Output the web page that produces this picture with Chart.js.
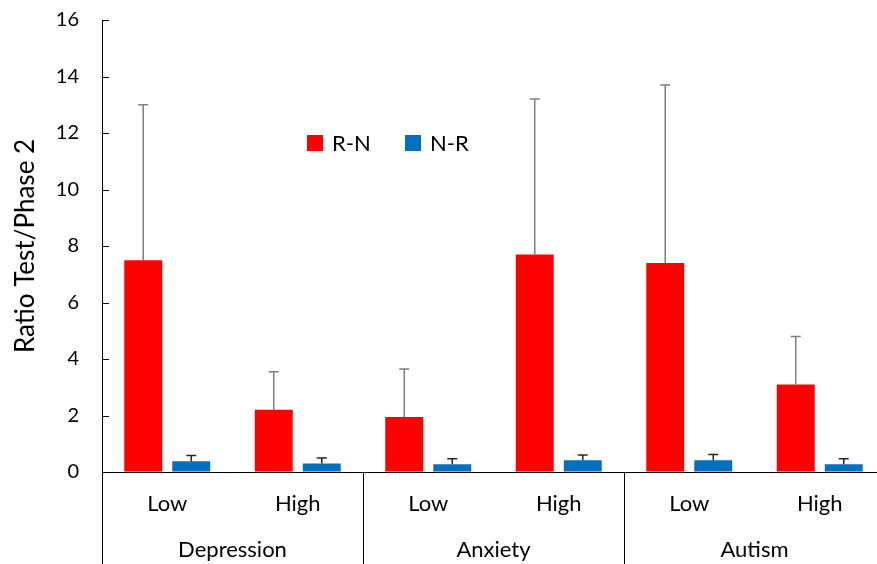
<!DOCTYPE html>
<html>
<head>
<meta charset="utf-8">
<script src="https://cdn.jsdelivr.net/npm/chart.js@4/dist/chart.umd.min.js"></script>
<style>
  body { margin: 0; overflow: hidden; background: #fff; }
  .wrap { width: 890px; height: 564px; }
</style>
</head>
<body>
<div class="wrap"><canvas id="myChart"></canvas></div>
<script>
// data
const categories = ['Low', 'High', 'Low', 'High', 'Low', 'High'];
const groups = ['Depression', 'Anxiety', 'Autism'];
const rnValues = [7.5, 2.2, 1.95, 7.7, 7.4, 3.1];
const rnErrors = [5.5, 1.35, 1.7, 5.5, 6.3, 1.7];
const nrValues = [0.38, 0.3, 0.27, 0.42, 0.42, 0.27];
const nrErrors = [0.2, 0.2, 0.2, 0.18, 0.2, 0.2];
const yTicks = [0, 2, 4, 6, 8, 10, 12, 14, 16];

const fontFamily = 'Lato, "Open Sans", sans-serif';

// error bars, only the upper half
const errorBars = {
  id: 'errorBars',
  afterDatasetsDraw(chart) {
    const ctx = chart.ctx;
    const y = chart.scales.y;
    chart.data.datasets.forEach((ds, i) => {
      const meta = chart.getDatasetMeta(i);
      meta.data.forEach((bar, j) => {
        const top = y.getPixelForValue(ds.data[j] + ds.errors[j]);
        ctx.save();
        ctx.strokeStyle = ds.errorColor;
        ctx.lineWidth = 1.5;
        ctx.beginPath();
        ctx.moveTo(bar.x, bar.y);
        ctx.lineTo(bar.x, top);
        ctx.moveTo(bar.x - 5, top);
        ctx.lineTo(bar.x + 5, top);
        ctx.stroke();
        ctx.restore();
      });
    });
  }
};

// inner y ticks, legend inside plot, group boxes under the axis
const extras = {
  id: 'extras',
  afterDraw(chart) {
    const ctx = chart.ctx;
    const x = chart.scales.x;
    const y = chart.scales.y;
    const area = chart.chartArea;
    const step = x.getPixelForValue(1) - x.getPixelForValue(0);
    ctx.save();
    ctx.strokeStyle = '#000';
    ctx.lineWidth = 1;
    ctx.beginPath();
    yTicks.forEach(v => {
      const py = Math.round(y.getPixelForValue(v)) + 0.5;
      ctx.moveTo(area.left, py);
      ctx.lineTo(area.left + 7, py);
    });
    for (let g = 0; g <= groups.length; g++) {
      const px = Math.round(x.getPixelForValue(g * 2) - step / 2) + 0.5;
      ctx.moveTo(px, area.bottom);
      ctx.lineTo(px, chart.height);
    }
    ctx.stroke();

    ctx.fillStyle = '#000';
    ctx.font = '22px ' + fontFamily;
    ctx.textAlign = 'center';
    ctx.textBaseline = 'middle';
    groups.forEach((g, i) => {
      const cx = (x.getPixelForValue(i * 2) + x.getPixelForValue(i * 2 + 1)) / 2;
      ctx.fillText(g, cx, 550);
    });

    // legend
    const items = [
      { label: 'R-N', color: '#FF0000', x: 307 },
      { label: 'N-R', color: '#0070C0', x: 405 }
    ];
    ctx.textAlign = 'left';
    items.forEach(it => {
      ctx.fillStyle = it.color;
      ctx.fillRect(it.x, 135, 16, 16);
      ctx.fillStyle = '#000';
      ctx.fillText(it.label, it.x + 25, 144);
    });
    ctx.restore();
  }
};

const ctx = document.getElementById('myChart');
new Chart(ctx, {
  type: 'bar',
  data: {
    labels: categories,
    datasets: [
      {
        label: 'R-N',
        data: rnValues,
        errors: rnErrors,
        errorColor: '#7F7F7F',
        backgroundColor: '#FF0000',
        categoryPercentage: 0.736,
        barPercentage: 0.79
      },
      {
        label: 'N-R',
        data: nrValues,
        errors: nrErrors,
        errorColor: '#262626',
        backgroundColor: '#0070C0',
        categoryPercentage: 0.736,
        barPercentage: 0.79
      }
    ]
  },
  options: {
    responsive: true,
    maintainAspectRatio: false,
    animation: false,
    layout: { padding: { top: 0, right: 5, left: 0, bottom: 0 } },
    plugins: {
      legend: { display: false },
      tooltip: { enabled: false }
    },
    scales: {
      x: {
        grid: { display: false },
        border: { display: true, color: '#000', width: 1 },
        ticks: {
          color: '#000',
          font: { family: fontFamily, size: 22 },
          padding: 11
        },
        afterFit(scale) { scale.height = 92; }
      },
      y: {
        min: 0,
        max: 16,
        afterBuildTicks(scale) { scale.ticks = yTicks.map(v => ({ value: v })); },
        grid: {
          drawOnChartArea: false,
          drawTicks: true,
          tickLength: 15,
          tickColor: 'rgba(0,0,0,0)'
        },
        border: { display: true, color: '#000', width: 1 },
        ticks: {
          color: '#000',
          font: { family: fontFamily, size: 20 },
          padding: 8
        },
        title: {
          display: true,
          text: 'Ratio Test/Phase 2',
          color: '#000',
          font: { family: fontFamily, size: 26 },
          padding: { top: 10, bottom: 0 }
        },
        afterFit(scale) { scale.width = 102; }
      }
    }
  },
  plugins: [errorBars, extras]
});
</script>
</body>
</html>
